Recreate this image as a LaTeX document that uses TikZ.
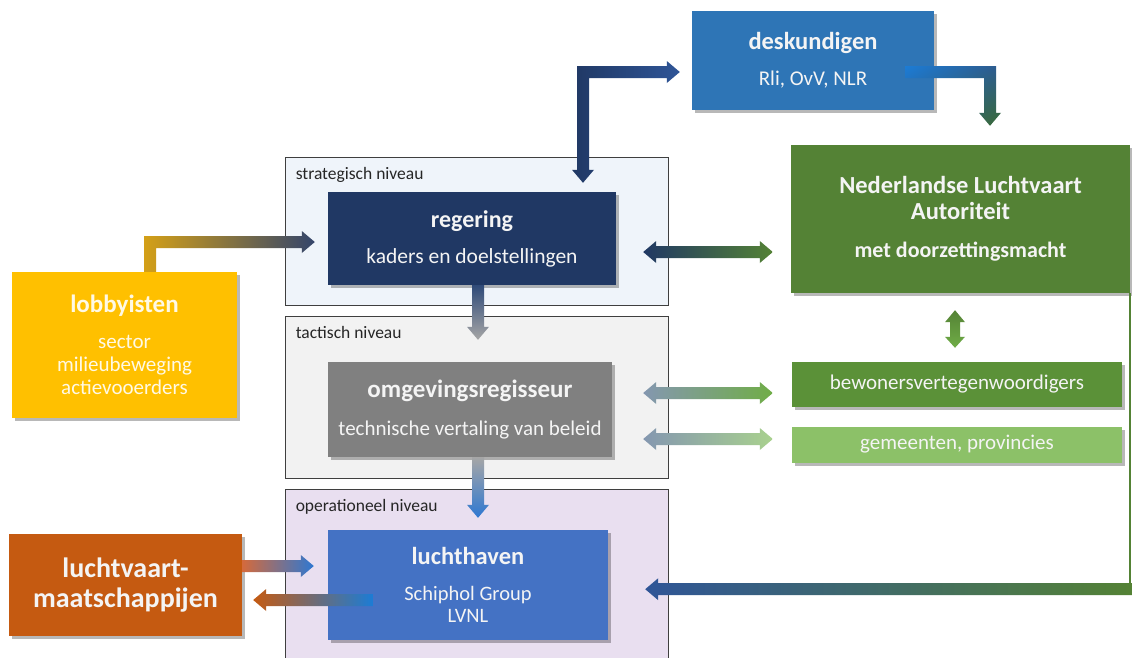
\documentclass[tikz,border=0pt]{standalone}
\usepackage{fontspec}
\setmainfont{Carlito}
\usetikzlibrary{calc,shadows,shadings}
\definecolor{cDesk}{HTML}{2E75B6}
\definecolor{cNLA}{HTML}{548235}
\definecolor{cReg}{HTML}{203864}
\definecolor{cOmg}{HTML}{808080}
\definecolor{cLucht}{HTML}{4472C4}
\definecolor{cLobby}{HTML}{FFC000}
\definecolor{cLvm}{HTML}{C55A11}
\definecolor{cBew}{HTML}{5B9138}
\definecolor{cGem}{HTML}{8CC168}
\definecolor{cStrat}{HTML}{EFF4FA}
\definecolor{cTact}{HTML}{F2F2F2}
\definecolor{cOper}{HTML}{E9DFF0}
\definecolor{cFrame}{HTML}{3F3F3F}
\definecolor{cTxt}{HTML}{F4F4F4}
\definecolor{cNavyB}{HTML}{2F5597}
\definecolor{cBlueB}{HTML}{1C7CD5}
\definecolor{cMidB}{HTML}{2E5A8C}
\definecolor{cDkGreen}{HTML}{3A6B35}
\definecolor{cGold}{HTML}{D4A017}
\definecolor{cNavyG}{HTML}{34456B}
\definecolor{cGrayA}{HTML}{A6A6A6}
\definecolor{cGrayB}{HTML}{8497B0}
\definecolor{cGreenA}{HTML}{70AD47}
\definecolor{cGreenB}{HTML}{A9D18E}
\definecolor{cBlueA}{HTML}{2E78D2}
\definecolor{cOrangeA}{HTML}{D46A3C}
\definecolor{cRegA}{HTML}{2F4A78}
\newcommand\aSW{6pt}
\newcommand\aHW{11pt}
\newcommand\aHL{13pt}
% right-pointing block arrow: #1 start, #2 tip
\newcommand\ArrR[4]{\shade[left color=#3,right color=#4] let \p1=(#1),\p2=(#2) in
 (\x1,\y1+\aSW) -- (\x2-\aHL,\y1+\aSW) -- (\x2-\aHL,\y1+\aHW) -- (\x2,\y1) -- (\x2-\aHL,\y1-\aHW) -- (\x2-\aHL,\y1-\aSW) -- (\x1,\y1-\aSW) -- cycle;}
% left-pointing: #1 start (right), #2 tip (left), #3 left colour, #4 right colour
\newcommand\ArrL[4]{\shade[left color=#3,right color=#4] let \p1=(#1),\p2=(#2) in
 (\x1,\y1+\aSW) -- (\x2+\aHL,\y1+\aSW) -- (\x2+\aHL,\y1+\aHW) -- (\x2,\y1) -- (\x2+\aHL,\y1-\aHW) -- (\x2+\aHL,\y1-\aSW) -- (\x1,\y1-\aSW) -- cycle;}
% double horizontal: #1 left tip, #2 right tip
\newcommand\ArrLR[4]{\shade[left color=#3,right color=#4] let \p1=(#1),\p2=(#2) in
 (\x1,\y1) -- (\x1+\aHL,\y1+\aHW) -- (\x1+\aHL,\y1+\aSW) -- (\x2-\aHL,\y1+\aSW) -- (\x2-\aHL,\y1+\aHW) -- (\x2,\y1) -- (\x2-\aHL,\y1-\aHW) -- (\x2-\aHL,\y1-\aSW) -- (\x1+\aHL,\y1-\aSW) -- (\x1+\aHL,\y1-\aHW) -- cycle;}
% down-pointing: #1 top start, #2 bottom tip
\newcommand\ArrD[4]{\shade[top color=#3,bottom color=#4] let \p1=(#1),\p2=(#2) in
 (\x1-\aSW,\y1) -- (\x1-\aSW,\y2+\aHL) -- (\x1-\aHW,\y2+\aHL) -- (\x1,\y2) -- (\x1+\aHW,\y2+\aHL) -- (\x1+\aSW,\y2+\aHL) -- (\x1+\aSW,\y1) -- cycle;}
% double vertical (smaller): #1 top tip, #2 bottom tip
\newcommand\ArrUD[4]{\shade[top color=#3,bottom color=#4] let \p1=(#1),\p2=(#2) in
 (\x1,\y1) -- (\x1+10pt,\y1-12pt) -- (\x1+5pt,\y1-12pt) -- (\x1+5pt,\y2+11pt) -- (\x1+10pt,\y2+11pt) -- (\x1,\y2) -- (\x1-10pt,\y2+11pt) -- (\x1-5pt,\y2+11pt) -- (\x1-5pt,\y1-12pt) -- (\x1-10pt,\y1-12pt) -- cycle;}
\tikzset{
  box/.style={inner sep=0pt, align=center, text=cTxt,
    drop shadow={shadow xshift=2.5pt, shadow yshift=-3pt, opacity=0.28, fill=black}},
  frame/.style={draw=cFrame, line width=0.9pt, inner sep=0pt},
  lvl/.style={anchor=west, inner sep=0pt, text=black!85, font=\fontsize{17.5}{19}\selectfont},
}
\begin{document}
\begin{tikzpicture}[x=1pt,y=-1pt]
\useasboundingbox (0,0) rectangle (1132,657);
\fill[white] (0,0) rectangle (1132,657);
% level frames
\node[frame, fill=cStrat, minimum width=383pt, minimum height=148pt] (strat) at (476.5,231) {};
\node[frame, fill=cTact, minimum width=383pt, minimum height=162pt] (tact) at (476.5,397) {};
\node[frame, fill=cOper, minimum width=383pt, minimum height=211pt] (oper) at (476.5,594.5) {};
\node[lvl] (stratlbl) at ($(strat.north west)+(11,18)$) {strategisch niveau};
\node[lvl] (tactlbl) at ($(tact.north west)+(11,17)$) {tactisch niveau};
\node[lvl] (operlbl) at ($(oper.north west)+(11,18)$) {operationeel niveau};
% boxes
\node[box, fill=cDesk, minimum width=242pt, minimum height=99pt, font=\fontsize{21}{22}\selectfont] (desk) at (813,60.5)
  {{\bfseries\fontsize{24.5}{22}\selectfont deskundigen}\\[14pt]Rli, OvV, NLR};
\node[box, fill=cNLA, minimum width=339pt, minimum height=148pt, font=\bfseries\fontsize{24.5}{26}\selectfont] (nla) at (960.5,219)
  {Nederlandse Luchtvaart\\Autoriteit\\[12pt]{\fontsize{22}{26}\selectfont met doorzettingsmacht}};
\node[box, fill=cReg, minimum width=288pt, minimum height=93pt, font=\fontsize{21.5}{22}\selectfont] (reg) at (472,238.5)
  {{\bfseries\fontsize{24}{22}\selectfont regering}\\[14pt]kaders en doelstellingen};
\node[box, fill=cOmg, minimum width=284pt, minimum height=95pt, font=\fontsize{21}{22}\selectfont] (omg) at (470,409.5)
  {{\bfseries\fontsize{25}{22}\selectfont omgevingsregisseur}\\[16pt]technische vertaling van beleid};
\node[box, fill=cLucht, minimum width=280pt, minimum height=110pt, font=\fontsize{20.5}{22}\selectfont] (lucht) at (468,585)
  {{\bfseries\fontsize{24.5}{22}\selectfont luchthaven}\\[14pt]Schiphol Group\\LVNL};
\node[box, fill=cLobby, minimum width=225pt, minimum height=146pt, font=\fontsize{21}{23}\selectfont, text=white!90!cLobby] (lobby) at (124.5,345)
  {{\bfseries\fontsize{25}{23}\selectfont lobbyisten}\\[13pt]sector\\milieubeweging\\actievooerders};
\node[box, fill=cLvm, minimum width=233pt, minimum height=102pt, font=\bfseries\fontsize{28}{30}\selectfont] (lvm) at (125.5,585)
  {luchtvaart-\\maatschappijen};
\node[box, fill=cBew, minimum width=330pt, minimum height=45pt, font=\fontsize{21}{22}\selectfont] (bew) at (957,384.5)
  {bewonersvertegenwoordigers};
\node[box, fill=cGem, minimum width=330pt, minimum height=36pt, font=\fontsize{21}{22}\selectfont] (gem) at (957,444.5)
  {gemeenten, provincies};
% connector coordinates
\coordinate (a1d) at ($(reg.north)+(111,-9)$);
\coordinate (a1r) at ($(desk.west)+(-12,11.5)$);
\coordinate (a2s) at ($(desk.east)+(-29,11.5)$);
\coordinate (a2t) at ($(nla.north)+(29.5,-19)$);
\coordinate (a3s) at ($(lobby.north)+(25.5,0)$);
\coordinate (a3t) at ($(reg.west)+(-13,3.5)$);
\coordinate (a4l) at ($(reg.east)+(27,13.5)$);
\coordinate (a4r) at ($(nla.west)+(-18,33)$);
\coordinate (a5s) at ($(reg.south)+(6,0)$);
\coordinate (a5t) at ($(omg.north)+(8,-22)$);
\coordinate (a6t) at ($(nla.south)+(-5.5,17)$);
\coordinate (a6b) at ($(bew.north)+(-2,-14)$);
\coordinate (a7l) at ($(omg.east)+(31,-16.5)$);
\coordinate (a7r) at ($(bew.west)+(-19,8.5)$);
\coordinate (a8l) at ($(omg.east)+(31,29.5)$);
\coordinate (a8r) at ($(gem.west)+(-19,-5.5)$);
\coordinate (a9s) at ($(omg.south)+(8,0)$);
\coordinate (a9t) at ($(lucht.north)+(10,-12)$);
\coordinate (a10s) at ($(lvm.east)+(0,-19)$);
\coordinate (a10t) at ($(lucht.west)+(-14,-19)$);
\coordinate (a11s) at ($(lucht.west)+(45,15)$);
\coordinate (a11t) at ($(lvm.east)+(11,15)$);
\coordinate (nlaturn) at ($(nla.south east)+(0,290)$);
\coordinate (a12s) at ($(nla.south east)+(2,296)$);
\coordinate (a12t) at ($(lucht.east)+(37,4)$);
% connectors
% regering <-> deskundigen (L shape)
\shade[left color=cReg,right color=cNavyB] let \p1=(a1d),\p2=(a1r) in
 (\x1,\y1) -- (\x1-\aHW,\y1+\aHL) -- (\x1-\aSW,\y1+\aHL) -- (\x1-\aSW,\y2+\aSW) -- (\x2-\aHL,\y2+\aSW) -- (\x2-\aHL,\y2+\aHW) -- (\x2,\y2) -- (\x2-\aHL,\y2-\aHW) -- (\x2-\aHL,\y2-\aSW) -- (\x1+\aSW,\y2-\aSW) -- (\x1+\aSW,\y1+\aHL) -- (\x1+\aHW,\y1+\aHL) -- cycle;
% deskundigen -> NLA (L shape)
\shade[upper left=cBlueB,upper right=cMidB,lower left=cMidB,lower right=cDkGreen] let \p1=(a2s),\p2=(a2t) in
 (\x1,\y1+\aSW) -- (\x2+\aSW,\y1+\aSW) -- (\x2+\aSW,\y2+\aHL) -- (\x2+\aHW,\y2+\aHL) -- (\x2,\y2) -- (\x2-\aHW,\y2+\aHL) -- (\x2-\aSW,\y2+\aHL) -- (\x2-\aSW,\y1-\aSW) -- (\x1,\y1-\aSW) -- cycle;
% lobbyisten -> regering (L shape)
\shade[left color=cGold,right color=cNavyG] let \p1=(a3s),\p2=(a3t) in
 (\x1-\aSW,\y1) -- (\x1-\aSW,\y2+\aSW) -- (\x2-\aHL,\y2+\aSW) -- (\x2-\aHL,\y2+\aHW) -- (\x2,\y2) -- (\x2-\aHL,\y2-\aHW) -- (\x2-\aHL,\y2-\aSW) -- (\x1+\aSW,\y2-\aSW) -- (\x1+\aSW,\y1) -- cycle;
\ArrLR{a4l}{a4r}{cReg}{cNLA}
\ArrD{a5s}{a5t}{cRegA}{cGrayA}
\ArrUD{a6t}{a6b}{cNLA}{cGreenA}
\ArrLR{a7l}{a7r}{cGrayB}{cGreenA}
\ArrLR{a8l}{a8r}{cGrayB}{cGreenB}
\ArrD{a9s}{a9t}{cGrayA}{cBlueA}
\ArrR{a10s}{a10t}{cOrangeA}{cBlueA}
\ArrL{a11s}{a11t}{cLvm}{cBlueB}
% NLA -> luchthaven
\draw[cNLA, line width=2pt] (nla.south east) -- (nlaturn);
\ArrL{a12s}{a12t}{cNavyB}{cNLA}
\end{tikzpicture}
\end{document}
